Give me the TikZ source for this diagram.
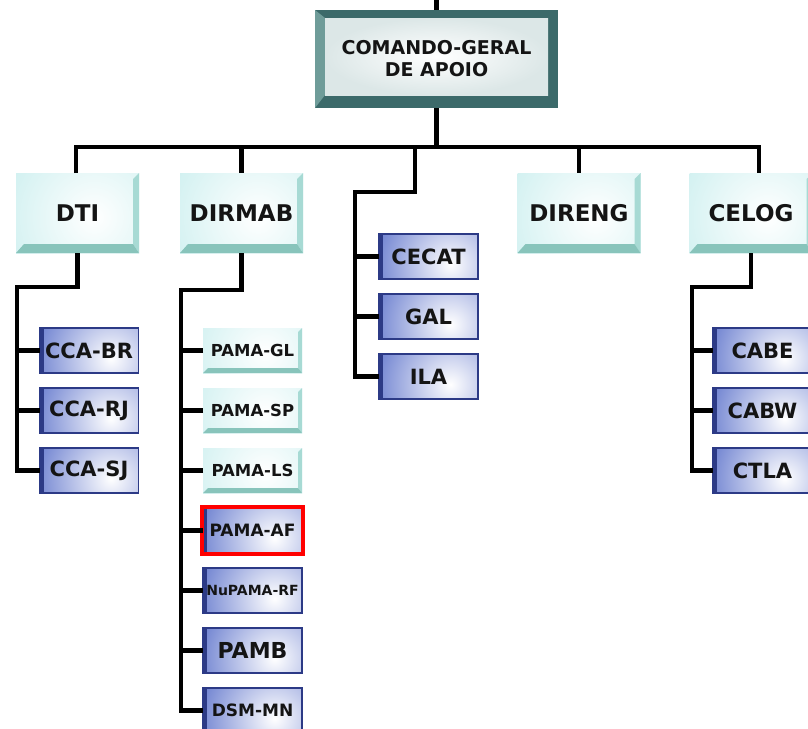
\documentclass[tikz,border=0pt]{standalone}
\usepackage{fontspec}
\setmainfont{DejaVu Sans}
\usetikzlibrary{positioning,calc,fit}
\definecolor{Frame}{HTML}{3C6A6A}
\definecolor{FrameLight}{HTML}{6F9C99}
\definecolor{Paper}{HTML}{DCE7E7}
\definecolor{Aqua}{HTML}{C9EEEE}
\definecolor{AquaEdge}{HTML}{88C4BB}
\definecolor{AquaSide}{HTML}{A7DAD4}
\definecolor{Royal}{HTML}{6A7ECF}
\definecolor{RoyalEdge}{HTML}{2C3A86}
\definecolor{Ink}{HTML}{141414}
\tikzset{
  org head/.style={minimum width=243pt,minimum height=98pt,inner sep=0pt,outer sep=0pt,
    fill=Frame,align=center,text=Ink,font=\fontsize{19}{22}\selectfont\bfseries,
    path picture={
      \coordinate (bsw) at (path picture bounding box.south west);
      \coordinate (bne) at (path picture bounding box.north east);
      \coordinate (bnw) at (path picture bounding box.north west);
      \fill[FrameLight] (bsw) -- ($(bsw)+(10pt,13pt)$) -- ($(bnw)+(10pt,-8pt)$) -- (bnw) -- cycle;
      \shade[inner color=white,outer color=Paper] ($(bsw)+(10pt,13pt)$) rectangle ($(bne)+(-10pt,-8pt)$);
    }},
  org dir/.style={minimum width=123pt,minimum height=80pt,inner sep=0pt,outer sep=0pt,
    fill=Aqua,text=Ink,font=\fontsize{23}{26}\selectfont\bfseries,
    path picture={
      \coordinate (bsw) at (path picture bounding box.south west);
      \coordinate (bne) at (path picture bounding box.north east);
      \coordinate (bse) at (path picture bounding box.south east);
      \shade[inner color=white,outer color=Aqua] ($(bsw)+(78pt,36pt)$) circle (110pt);
      \fill[AquaSide] (bne) -- (bse) -- ++(-6pt,9pt) -- ($(bne)+(-6pt,-6pt)$) -- cycle;
      \fill[AquaEdge] (bsw) -- (bse) -- ++(-6pt,9pt) -- ($(bsw)+(8pt,9pt)$) -- cycle;
    }},
  org pama/.style={minimum width=99pt,minimum height=45pt,inner sep=0pt,outer sep=0pt,
    fill=Aqua,text=Ink,font=\fontsize{16.5}{19}\selectfont\bfseries,
    path picture={
      \coordinate (bsw) at (path picture bounding box.south west);
      \coordinate (bne) at (path picture bounding box.north east);
      \coordinate (bse) at (path picture bounding box.south east);
      \shade[inner color=white,outer color=Aqua] ($(bsw)+(62pt,20pt)$) circle (90pt);
      \fill[AquaSide] (bne) -- (bse) -- ++(-4pt,5pt) -- ($(bne)+(-4pt,-4pt)$) -- cycle;
      \fill[AquaEdge] (bsw) -- (bse) -- ++(-4pt,5pt) -- ($(bsw)+(5pt,5pt)$) -- cycle;
    }},
  org unit/.style={minimum width=99pt,minimum height=45pt,inner sep=0pt,outer sep=0pt,
    draw=RoyalEdge,line width=1.6pt,fill=Royal,text=Ink,font=\fontsize{21}{24}\selectfont\bfseries,
    path picture={
      \shade[inner color=white,outer color=Royal] ($(path picture bounding box.center)+(22pt,-8pt)$) circle (80pt);
      \fill[RoyalEdge] (path picture bounding box.south west) rectangle ($(path picture bounding box.north west)+(4pt,0pt)$);
    }},
  org line/.style={line width=4.2pt,draw=black},
  org mark/.style={draw=red,line width=4.5pt,inner sep=1pt}
}
\begin{document}
\begin{tikzpicture}[x=1pt,y=-1pt,node distance=15pt]
  \useasboundingbox (0,0) rectangle (808,728);
  % top and directorates
  \node[org head] (cmd) at (436.5,59) {COMANDO-GERAL\\DE APOIO};
  \node[org dir] (dti) at (77.5,213) {DTI};
  \node[org dir] (dirmab) at (241.5,213) {DIRMAB};
  \node[org dir] (direng) at (579,213) {DIRENG};
  \node[org dir] (celog) at (751,213) {CELOG};

  % DTI
  \node[org unit] (ccabr) at (89,350.5) {CCA-BR};
  \node[org unit,below=of ccabr] (ccarj) {CCA-RJ};
  \node[org unit,below=of ccarj] (ccasj) {CCA-SJ};

  % DIRMAB
  \node[org pama] (pamagl) at (252.5,350.5) {PAMA-GL};
  \node[org pama,below=of pamagl] (pamasp) {PAMA-SP};
  \node[org pama,below=of pamasp] (pamals) {PAMA-LS};
  \node[org unit,below=of pamals,font=\fontsize{17}{20}\selectfont\bfseries] (pamaaf) {PAMA-AF};
  \node[org unit,below=of pamaaf,font=\fontsize{14}{16}\selectfont\bfseries] (nupama) {NuPAMA-RF};
  \node[org unit,below=of nupama,font=\fontsize{22}{25}\selectfont\bfseries] (pamb) {PAMB};
  \node[org unit,below=of pamb,font=\fontsize{17}{20}\selectfont\bfseries] (dsmmn) {DSM-MN};
  \node[org mark,fit=(pamaaf)] (pamaafmark) {};

  % directly under the command
  \node[org unit] (cecat) at (428.5,256.5) {CECAT};
  \node[org unit,below=of cecat] (gal) {GAL};
  \node[org unit,below=of gal] (ila) {ILA};

  % CELOG
  \node[org unit] (cabe) at (762.5,350.5) {CABE};
  \node[org unit,below=of cabe] (cabw) {CABW};
  \node[org unit,below=of cabw] (ctla) {CTLA};

  % connectors
  \coordinate (cmdtop) at (436.5,0);
  \coordinate (barw) at (76,147);
  \coordinate (bare) at (759,147);
  \coordinate (midbus) at (415,192);
  \coordinate (ctrbus) at (355,192);
  \coordinate (dtibus) at (17,287);
  \coordinate (mabbus) at (181,290);
  \coordinate (logbus) at (692,287);

  \draw[org line] (cmdtop) -- (cmd.north);
  \draw[org line] (cmd.south) -- (cmd.south |- barw);
  \draw[org line] (barw |- dti.north) -- (barw) -- (bare) -- (bare |- celog.north);
  \draw[org line] (dirmab.north |- barw) -- (dirmab.north);
  \draw[org line] (direng.north |- barw) -- (direng.north);
  \draw[org line] (midbus |- barw) -- (midbus) -- (ctrbus) |- (ila.west);
  \foreach \u in {cecat,gal}
    \draw[org line] (\u.west) -- (\u.west -| ctrbus);

  \draw[org line] (dti.south) |- (dtibus) |- (ccasj.west);
  \foreach \u in {ccabr,ccarj}
    \draw[org line] (\u.west) -- (\u.west -| dtibus);

  \draw[org line] (dirmab.south) |- (mabbus) |- (dsmmn.west);
  \foreach \u in {pamagl,pamasp,pamals,pamaaf,nupama,pamb}
    \draw[org line] (\u.west) -- (\u.west -| mabbus);

  \draw[org line] (celog.south) |- (logbus) |- (ctla.west);
  \foreach \u in {cabe,cabw}
    \draw[org line] (\u.west) -- (\u.west -| logbus);
\end{tikzpicture}
\end{document}
